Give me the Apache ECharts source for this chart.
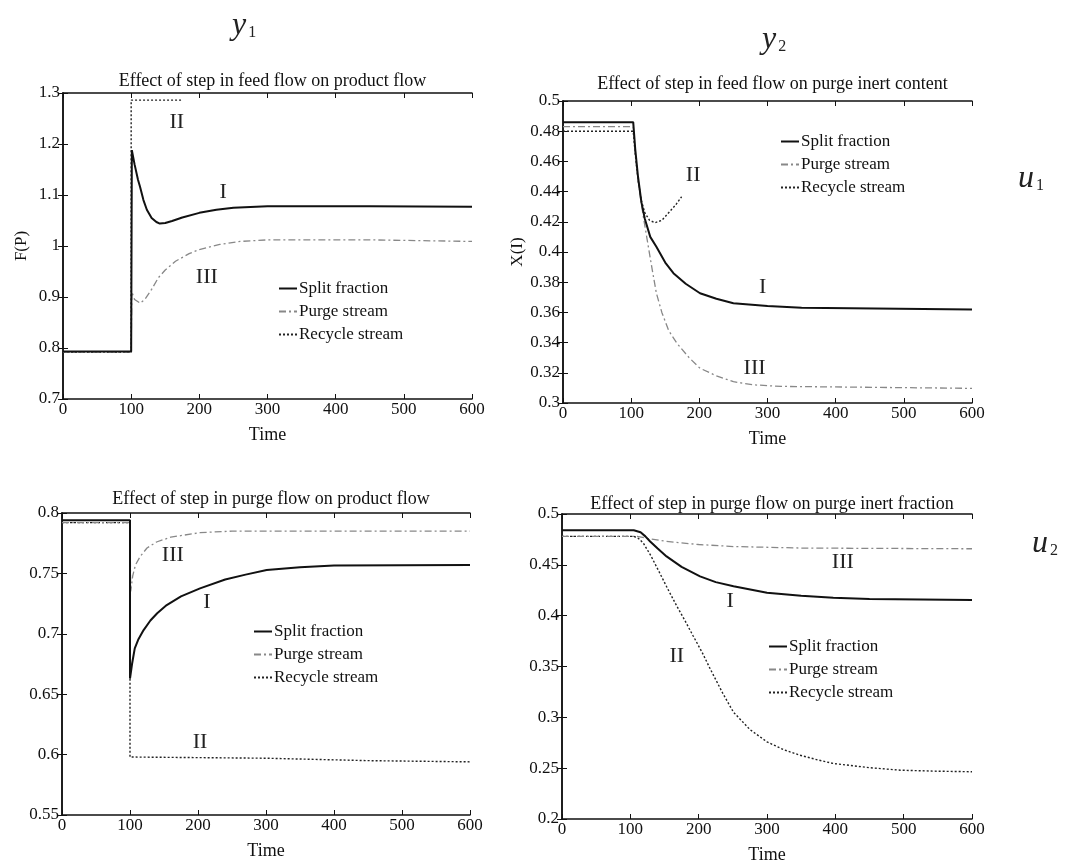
<!DOCTYPE html>
<html>
<head>
<meta charset="utf-8">
<script src="https://cdn.jsdelivr.net/npm/echarts@6/dist/echarts.min.js"></script>
<style>
html, body { margin: 0; padding: 0; background: #fff; }
#main { width: 1072px; height: 865px; }
</style>
</head>
<body>
<div id="main"></div>
<script>
// values: [time, value]
const seriesNames = ['Split fraction', 'Purge stream', 'Recycle stream'];
const plotTitles = [
    'Effect of step in feed flow on product flow',
    'Effect of step in feed flow on purge inert content',
    'Effect of step in purge flow on product flow',
    'Effect of step in purge flow on purge inert fraction'
];
const timeAxis = [0, 600, 100];          // min, max, interval
const yAxes = [[0.7, 1.3, 0.1], [0.3, 0.5, 0.02], [0.55, 0.8, 0.05], [0.2, 0.5, 0.05]];
const yNames = ['F(P)', 'X(I)', '', ''];

// top left: feed flow -> product flow
const tlSplit = [[0,0.793],[100,0.793],[101,1.188],[105,1.16],[110,1.13],[113,1.116],[118,1.09],[123,1.071],[130,1.055],[137,1.047],[142,1.044],[150,1.045],[160,1.049],[175,1.056],[200,1.065],[225,1.071],[250,1.075],[300,1.078],[450,1.078],[600,1.077]];
const tlPurge = [[0,0.792],[100,0.792],[101,0.91],[105,0.895],[113,0.888],[120,0.895],[130,0.915],[140,0.938],[150,0.953],[165,0.97],[185,0.985],[200,0.993],[230,1.003],[260,1.009],[300,1.012],[450,1.012],[600,1.009]];
const tlRecycle = [[0,0.792],[100,0.792],[100,1.286],[175,1.286]];

// top right: feed flow -> purge inert content
const trSplit = [[0,0.486],[103,0.486],[106,0.468],[110,0.45],[115,0.433],[120,0.422],[128,0.41],[137,0.4035],[150,0.393],[162,0.386],[180,0.379],[201,0.3727],[225,0.369],[250,0.366],[300,0.3642],[350,0.363],[600,0.362]];
const trPurge = [[0,0.483],[103,0.483],[106,0.465],[110,0.448],[114,0.435],[118,0.423],[125,0.404],[131,0.388],[137,0.3727],[145,0.36],[155,0.348],[167,0.3396],[185,0.33],[201,0.323],[225,0.318],[250,0.3141],[280,0.312],[320,0.311],[600,0.3097]];
const trRecycle = [[0,0.480],[103,0.480],[106,0.465],[110,0.448],[115,0.434],[120,0.426],[127,0.421],[135,0.4194],[145,0.421],[155,0.426],[165,0.431],[174,0.4366]];

// bottom left: purge flow -> product flow
const blSplit = [[0,0.794],[100,0.794],[100,0.663],[103,0.675],[107,0.688],[112,0.695],[120,0.7031],[130,0.711],[140,0.717],[154,0.7238],[175,0.731],[203,0.7376],[240,0.745],[270,0.749],[301,0.7528],[350,0.755],[400,0.7565],[600,0.757]];
const blPurge = [[0,0.792],[100,0.792],[101,0.735],[104,0.748],[108,0.757],[115,0.764],[125,0.771],[139,0.776],[160,0.78],[203,0.7837],[250,0.785],[600,0.785]];
const blRecycle = [[0,0.792],[100,0.792],[100,0.598],[300,0.597],[450,0.595],[600,0.594]];

// bottom right: purge flow -> purge inert fraction
const brSplit = [[0,0.484],[105,0.484],[115,0.482],[122,0.478],[129,0.473],[140,0.466],[153,0.4583],[175,0.448],[202,0.4387],[225,0.433],[251,0.429],[300,0.4225],[350,0.4195],[397,0.4176],[450,0.4165],[600,0.4153]];
const brPurge = [[0,0.478],[110,0.478],[125,0.476],[153,0.473],[200,0.47],[251,0.468],[350,0.4665],[600,0.4658]];
const brRecycle = [[0,0.478],[105,0.478],[112,0.476],[119,0.4714],[130,0.459],[143,0.442],[155,0.426],[168,0.4094],[180,0.395],[192,0.38],[205,0.364],[217,0.3475],[235,0.324],[251,0.305],[275,0.288],[300,0.2759],[325,0.268],[348,0.2628],[375,0.258],[397,0.2546],[450,0.2505],[495,0.248],[550,0.247],[600,0.2465]];

// handwritten roman numerals: [text, time, value]
const tlNumerals = [['II',167,1.243],['I',235,1.106],['III',211,0.939]];
const trNumerals = [['II',191,0.451],['I',293,0.377],['III',281,0.323]];
const blNumerals = [['III',163,0.765],['I',213,0.726],['II',203,0.61]];
const brNumerals = [['III',411,0.453],['I',246,0.414],['II',168,0.36]];

const plotData = [
    [tlSplit, tlPurge, tlRecycle, tlNumerals],
    [trSplit, trPurge, trRecycle, trNumerals],
    [blSplit, blPurge, blRecycle, blNumerals],
    [brSplit, brPurge, brRecycle, brNumerals]
];

// layout (pixels)
const grids = [
    {left: 63, top: 93, width: 409, height: 306},
    {left: 563, top: 101, width: 409, height: 302},
    {left: 62, top: 513, width: 408, height: 302},
    {left: 562, top: 514, width: 410, height: 307}
];
const titleTops = [67, 70, 485, 490];
const yNameGaps = [33, 33, 36, 36];
const legendPos = [[278, 280], [780, 133], [253, 623], [768, 638]];
const font = '"Liberation Serif", "DejaVu Serif", serif';
const lineStyles = [
    {color: '#111', width: 2, type: 'solid'},
    {color: '#888', width: 1.3, type: [7, 3, 2, 3]},
    {color: '#222', width: 1.4, type: [2, 2]}
];

const chart = echarts.init(document.getElementById('main'));

const xAxis = [], yAxis = [], series = [], title = [], legend = [];
grids.forEach((g, i) => {
    const y = yAxes[i];
    const common = {
        gridIndex: i,
        type: 'value',
        axisLine: {show: true, lineStyle: {color: '#111', width: 1.5}},
        axisTick: {show: true, inside: true, length: 5, lineStyle: {color: '#111'}},
        splitLine: {show: false}
    };
    xAxis.push(Object.assign({}, common, {
        min: timeAxis[0], max: timeAxis[1], interval: timeAxis[2],
        name: 'Time', nameLocation: 'middle', nameGap: 27,
        nameTextStyle: {fontFamily: font, fontSize: 18, color: '#111'},
        axisLabel: {fontFamily: font, fontSize: 17, color: '#111', margin: 2}
    }));
    yAxis.push(Object.assign({}, common, {
        min: y[0], max: y[1], interval: y[2],
        name: yNames[i], nameLocation: 'middle', nameGap: yNameGaps[i],
        nameTextStyle: {fontFamily: font, fontSize: 17, color: '#111'},
        axisLabel: {fontFamily: font, fontSize: 17, color: '#111', margin: 3}
    }));
    title.push({
        text: plotTitles[i], left: g.left + g.width / 2, top: titleTops[i], textAlign: 'center',
        textStyle: {fontFamily: font, fontSize: 18, fontWeight: 'normal', color: '#111'}
    });
    legend.push({
        data: seriesNames, orient: 'vertical', left: legendPos[i][0], top: legendPos[i][1],
        padding: 0, itemWidth: 18, itemHeight: 12, itemGap: 6, selectedMode: false,
        itemStyle: {color: 'rgba(0,0,0,0)', borderWidth: 0, opacity: 0},
        textStyle: {fontFamily: font, fontSize: 17, color: '#111', padding: [0, 0, 0, -3]}
    });
    plotData[i].slice(0, 3).forEach((d, k) => {
        const s = {
            name: seriesNames[k], type: 'line', xAxisIndex: i, yAxisIndex: i,
            data: d, symbol: 'none', lineStyle: lineStyles[k], itemStyle: {color: lineStyles[k].color},
            z: 3 - k
        };
        if (k === 0) {
            s.markPoint = {
                symbol: 'circle', symbolSize: 1, itemStyle: {color: 'rgba(0,0,0,0)'},
                label: {show: true, formatter: '{b}', fontFamily: font, fontSize: 22, color: '#222'},
                data: plotData[i][3].map(n => ({name: n[0], coord: [n[1], n[2]]}))
            };
        }
        series.push(s);
    });
});
// box: top and right axes with inward ticks
grids.forEach((g, i) => {
    const y = yAxes[i];
    xAxis.push({gridIndex: i, type: 'value', position: 'top', min: timeAxis[0], max: timeAxis[1], interval: timeAxis[2],
        axisLine: {show: true, lineStyle: {color: '#111', width: 1.5}},
        axisTick: {show: true, inside: true, length: 5, lineStyle: {color: '#111'}},
        axisLabel: {show: false}, splitLine: {show: false}});
    yAxis.push({gridIndex: i, type: 'value', position: 'right', min: y[0], max: y[1], interval: y[2],
        axisLine: {show: true, lineStyle: {color: '#111', width: 1.5}},
        axisTick: {show: true, inside: true, length: 5, lineStyle: {color: '#111'}},
        axisLabel: {show: false}, splitLine: {show: false}});
});

// handwritten margin notes
const notes = [['y', '1', 232, 10], ['y', '2', 762, 24], ['u', '1', 1018, 163], ['u', '2', 1032, 528]];
const graphic = notes.map(n => ({
    type: 'text', left: n[2], top: n[3],
    style: {
        text: '{a|' + n[0] + '}{b|' + n[1] + '}',
        rich: {
            a: {fontFamily: font, fontStyle: 'italic', fontSize: 32, fill: '#222'},
            b: {fontFamily: font, fontSize: 16, fill: '#222', padding: [14, 0, 0, 2]}
        }
    }
}));

chart.setOption({
    backgroundColor: '#fff',
    animation: false,
    title: title,
    legend: legend,
    grid: grids,
    xAxis: xAxis,
    yAxis: yAxis,
    series: series,
    graphic: graphic
});
</script>
</body>
</html>
